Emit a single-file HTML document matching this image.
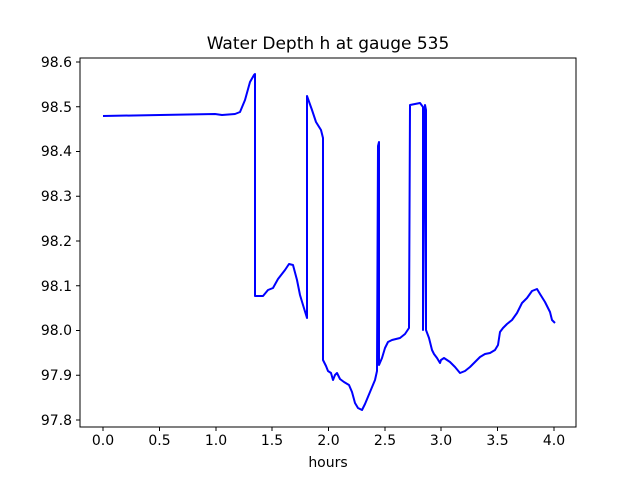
<!DOCTYPE html>
<html><head><meta charset="utf-8"><style>body{margin:0;background:#fff}</style></head><body>
<svg width="640" height="480" xmlns="http://www.w3.org/2000/svg" font-family="DejaVu Sans, Liberation Sans, sans-serif" font-size="14">
<rect width="640" height="480" fill="#fff"/>
<text x="328" y="49" text-anchor="middle" font-size="17">Water Depth h at gauge 535</text>
<polyline fill="none" stroke="#0000ff" stroke-width="2" stroke-linejoin="round" points="103,116 160,115 215,114 222,115 235,114 240,112 245,100 250,82 254,75 255,74 255,296 263,296 268,290 273,288 278,279 285,270 289,264 293,265 297,280 300,295 303,305 307,318 307,96 312,110 316,122 321,130 323,138 323,360 326,366 328,371 331,373 333,380 335,375 337,373 340,379 344,382 349,385 352,392 355,403 358,408 362,410 365,404 370,392 375,380 377,371 378,146 379,142 379,365 382,358 385,348 388,342 392,340 400,338 405,334 409,328 410,105 420,103 423,107 423,330 425,105 426,110 426,330 429,338 432,350 434,354 437,358 440,363 441,360 444,358 450,362 455,367 460,373 465,371 470,367 475,362 480,357 485,354 490,353 495,350 498,345 500,332 503,328 507,324 512,320 517,313 522,303 527,298 532,291 537,289 540,294 545,302 550,312 552,320 555,323"/>
<rect x="80" y="58" width="496" height="369" fill="none" stroke="#000" stroke-width="1"/>
<g stroke="#000">
<line x1="103" y1="427" x2="103" y2="431"/><line x1="159.5" y1="427" x2="159.5" y2="431"/><line x1="216" y1="427" x2="216" y2="431"/><line x1="272" y1="427" x2="272" y2="431"/><line x1="328.5" y1="427" x2="328.5" y2="431"/><line x1="385" y1="427" x2="385" y2="431"/><line x1="441" y1="427" x2="441" y2="431"/><line x1="497.5" y1="427" x2="497.5" y2="431"/><line x1="554" y1="427" x2="554" y2="431"/>
<line x1="76" y1="420" x2="80" y2="420"/><line x1="76" y1="375.25" x2="80" y2="375.25"/><line x1="76" y1="330.5" x2="80" y2="330.5"/><line x1="76" y1="285.75" x2="80" y2="285.75"/><line x1="76" y1="241" x2="80" y2="241"/><line x1="76" y1="196.25" x2="80" y2="196.25"/><line x1="76" y1="151.5" x2="80" y2="151.5"/><line x1="76" y1="106.75" x2="80" y2="106.75"/><line x1="76" y1="62" x2="80" y2="62"/>
</g>
<g text-anchor="middle">
<text x="103" y="445">0.0</text><text x="159.5" y="445">0.5</text><text x="216" y="445">1.0</text><text x="272" y="445">1.5</text><text x="328.5" y="445">2.0</text><text x="385" y="445">2.5</text><text x="441" y="445">3.0</text><text x="497.5" y="445">3.5</text><text x="554" y="445">4.0</text>
<text x="328" y="467">hours</text>
</g>
<g text-anchor="end">
<text x="72" y="425">97.8</text><text x="72" y="380">97.9</text><text x="72" y="335">98.0</text><text x="72" y="291">98.1</text><text x="72" y="246">98.2</text><text x="72" y="201">98.3</text><text x="72" y="156">98.4</text><text x="72" y="112">98.5</text><text x="72" y="67">98.6</text>
</g>
</svg>
</body></html>
